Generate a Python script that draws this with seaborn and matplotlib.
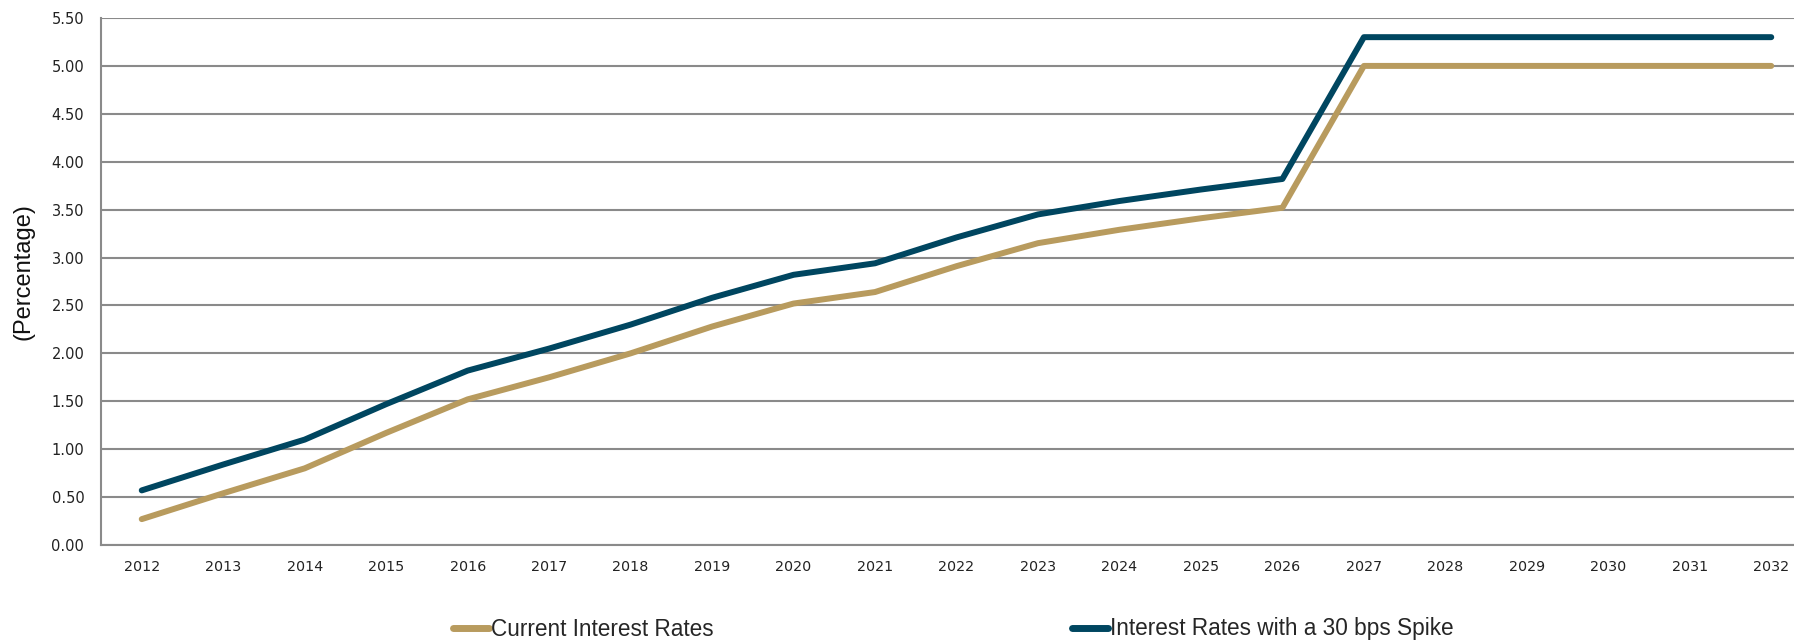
import matplotlib
matplotlib.use("Agg")
import matplotlib.pyplot as plt
from matplotlib.lines import Line2D
import pandas as pd
import seaborn as sns

# Annual rate paths (percent)
years = list(range(2012, 2033))
current_rates = [0.27, 0.54, 0.80, 1.17, 1.52, 1.75, 2.00, 2.28, 2.52, 2.64, 2.91,
                 3.15, 3.29, 3.41, 3.52, 5.00, 5.00, 5.00, 5.00, 5.00, 5.00]
spike_rates = [0.57, 0.84, 1.10, 1.47, 1.82, 2.05, 2.30, 2.58, 2.82, 2.94, 3.21,
               3.45, 3.59, 3.71, 3.82, 5.30, 5.30, 5.30, 5.30, 5.30, 5.30]
series_names = ["Current Interest Rates", "Interest Rates with a 30 bps Spike"]
y_ticks = [0.0, 0.5, 1.0, 1.5, 2.0, 2.5, 3.0, 3.5, 4.0, 4.5, 5.0, 5.5]

GOLD = "#B89B5E"
NAVY = "#004660"
GRID = "#8A8A8A"

df = pd.DataFrame({
    "Year": years * 2,
    "Rate": current_rates + spike_rates,
    "Series": [series_names[0]] * len(years) + [series_names[1]] * len(years),
})

sns.set_theme(style="white")
plt.rcParams["font.family"] = ["DejaVu Sans"]

W, H = 1794, 640
fig = plt.figure(figsize=(W / 100, H / 100), dpi=100)
left, right, top, bottom = 101, 1812, 18, 545
ax = fig.add_axes([left / W, (H - bottom) / H, (right - left) / W, (bottom - top) / H])

sns.lineplot(data=df, x="Year", y="Rate", hue="Series",
             palette={series_names[0]: GOLD, series_names[1]: NAVY},
             linewidth=4.3, ax=ax, legend=False, zorder=3,
             solid_capstyle="round")

ax.set_xlim(2011.5, 2032.5)
ax.set_ylim(0, 5.5)
ax.set_xticks(years)
ax.set_xticklabels([str(y) for y in years], fontsize=10.3, color="#222222")
ax.set_yticks(y_ticks)
ax.set_yticklabels([f"{v:.2f}" for v in y_ticks], fontsize=10.5, color="#222222")
ax.tick_params(axis="both", length=0)
ax.tick_params(axis="x", pad=11)
ax.tick_params(axis="y", pad=12)

ax.yaxis.grid(True, color=GRID, linewidth=1.5)
ax.xaxis.grid(False)
ax.set_axisbelow(True)
for side in ["top", "right"]:
    ax.spines[side].set_visible(False)
for side in ["left", "bottom"]:
    ax.spines[side].set_color(GRID)
    ax.spines[side].set_linewidth(1.5)
    ax.spines[side].set_zorder(2)

ax.set_xlabel("")
ax.set_ylabel("")
fig.text(23 / W, 0.575, "(Percentage)", rotation=90, ha="center", va="center",
         fontsize=17, family=["Liberation Sans"], color="#111111")

handles = [Line2D([0], [0], color=GOLD, linewidth=5, solid_capstyle="round"),
           Line2D([0], [0], color=NAVY, linewidth=5, solid_capstyle="round")]
fig.legend(handles, series_names, loc="center left",
           bbox_to_anchor=(453 / W, 11 / H), ncol=2, frameon=False,
           prop={"family": "Liberation Sans", "size": 16.3},
           handlelength=1.6, handletextpad=0.1, columnspacing=15.8,
           borderpad=0, borderaxespad=0)

fig.savefig("out.png", dpi=100, facecolor="white")
